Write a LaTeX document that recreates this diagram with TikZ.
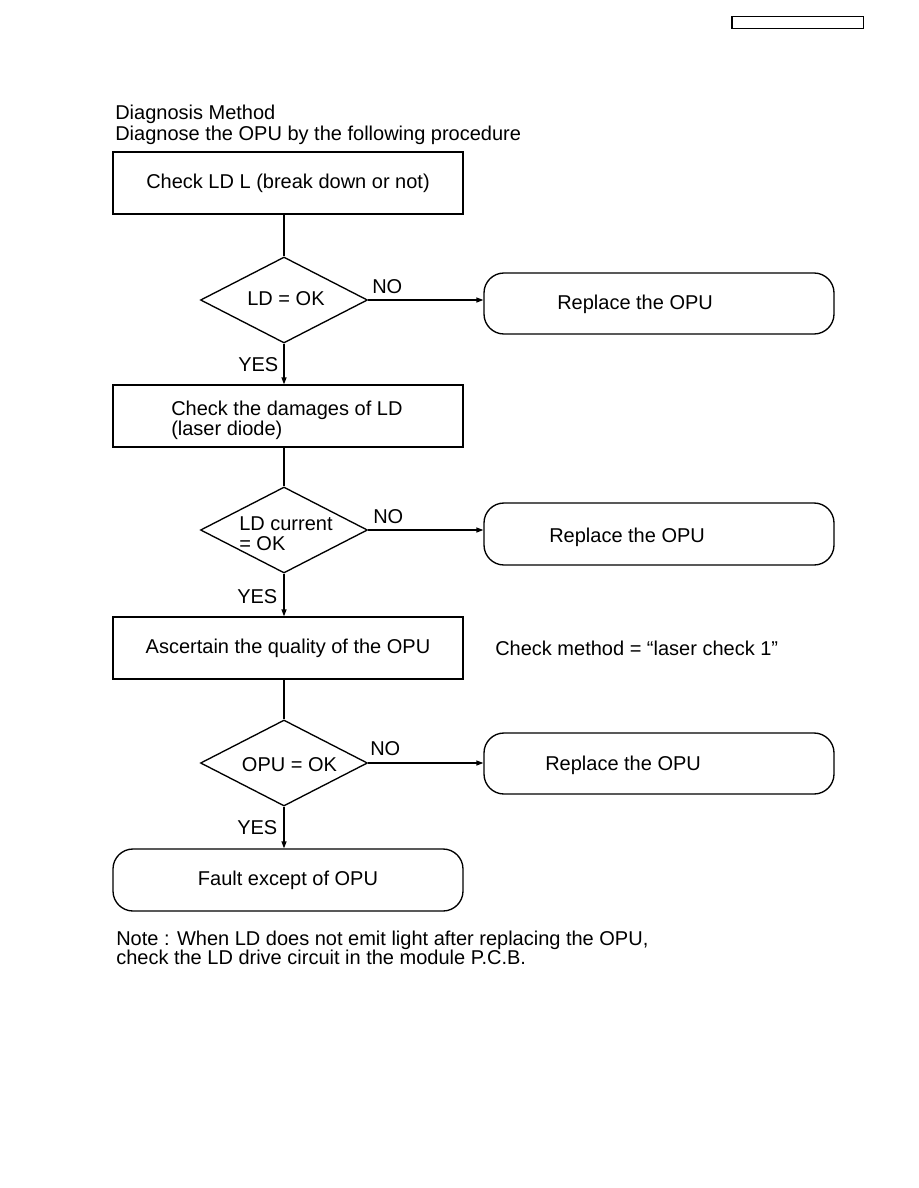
\documentclass[tikz,border=0pt]{standalone}
\usepackage{fontspec}
\setmainfont{Liberation Sans}
\usetikzlibrary{shapes.geometric,arrows.meta}
\begin{document}
\begin{tikzpicture}[x=0.75pt,y=-0.75pt,
  every node/.style={font=\fontsize{15pt}{20pt}\selectfont},
  box/.style={draw,line width=1pt,minimum width=262.5pt,minimum height=46.5pt,inner sep=0pt},
  rbox/.style={box,rounded corners=15pt},
  dec/.style={diamond,draw,line width=1pt,minimum width=125.25pt,minimum height=64.5pt,inner sep=0pt},
  txt/.style={inner sep=0pt,anchor=base west},
  ctxt/.style={inner sep=0pt,anchor=base},
  conn/.style={line width=1pt},
  arr/.style={line width=1pt,-{Triangle[length=5.25pt,width=3.75pt]}}
]
\useasboundingbox (0,0) rectangle (918,1188);
% header box
\node[draw,line width=1pt,minimum width=98.5pt,minimum height=8.7pt,inner sep=0pt] (hdr) at (797.5,22.5) {};
% title
\node[txt] (t1) at (115,119) {Diagnosis Method};
\node[txt] (t2) at (115,140) {Diagnose the OPU by the following procedure};
% boxes
\node[box] (b1) at (288,183) {Check LD L (break down or not)};
\node[dec] (d1) at (284,300) {};
\node[ctxt] (d1t) at (286,305) {LD = OK};
\node[rbox,minimum height=45.75pt] (r1) at (659,303.5) {};
\node[txt] (r1t) at (557,309) {Replace the OPU};
\node[txt] (no1) at (372,293) {NO};
\node[txt] (yes1) at (238,371) {YES};

\node[box] (b2) at (288,416) {};
\node[txt] (b2a) at (171,415) {Check the damages of LD};
\node[txt] (b2b) at (171,435) {(laser diode)};
\node[dec] (d2) at (284,530) {};
\node[txt] (d2a) at (239,530) {LD current};
\node[txt] (d2b) at (239,550) {= OK};
\node[rbox] (r2) at (659,534) {};
\node[txt] (r2t) at (549,542) {Replace the OPU};
\node[txt] (no2) at (373,523) {NO};
\node[txt] (yes2) at (237,603) {YES};

\node[box] (b3) at (288,648) {Ascertain the quality of the OPU};
\node[txt] (cm) at (495,655) {Check method = “laser check 1”};
\node[dec] (d3) at (284,763) {};
\node[ctxt] (d3t) at (289.5,771) {OPU = OK};
\node[rbox,minimum height=45.75pt] (r3) at (659,763.5) {};
\node[txt] (r3t) at (545,770) {Replace the OPU};
\node[txt] (no3) at (370,755) {NO};
\node[txt] (yes3) at (237,834) {YES};

\node[rbox] (r4) at (288,880) {Fault except of OPU};

\node[txt] (n1) at (116,945) {Note : When LD does not emit light after replacing the OPU,};
\node[txt] (n2) at (116,964.5) {check the LD drive circuit in the module P.C.B.};

% connectors
\draw[conn] (d1.north |- b1.south) -- (d1.north);
\draw[arr] (d1.east) -- (r1.west |- d1.east);
\draw[arr] (d1.south) -- (d1.south |- b2.north);
\draw[conn] (d2.north |- b2.south) -- (d2.north);
\draw[arr] (d2.east) -- (r2.west |- d2.east);
\draw[arr] (d2.south) -- (d2.south |- b3.north);
\draw[conn] (d3.north |- b3.south) -- (d3.north);
\draw[arr] (d3.east) -- (r3.west |- d3.east);
\draw[arr] (d3.south) -- (d3.south |- r4.north);
\end{tikzpicture}
\end{document}
